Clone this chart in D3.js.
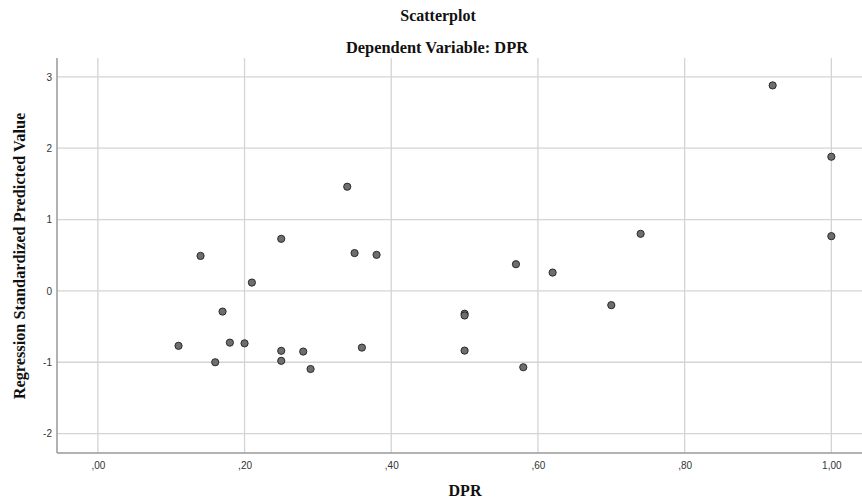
<!DOCTYPE html>
<html>
<head>
<meta charset="utf-8">
<script src="https://cdn.jsdelivr.net/npm/d3@7"></script>
<style>
  body { margin: 0; background: #fff; }
  svg { display: block; }
  .title { font-family: "Liberation Serif", "Times New Roman", serif; font-weight: bold; fill: #111; }
  .tick text { font-family: "Liberation Sans", Arial, sans-serif; font-size: 10px; fill: #333; }
</style>
</head>
<body>
<svg id="chart" width="862" height="501"></svg>
<script>
// DPR (x) vs regression standardized predicted value (y)
var dpr = [0.14, 0.34, 0.25, 0.35, 0.38, 0.21, 0.17, 0.11, 0.18, 0.20, 0.16, 0.25, 0.25, 0.28, 0.29, 0.36,
           0.92, 1.00, 1.00, 0.74, 0.57, 0.62, 0.70, 0.50, 0.50, 0.50, 0.58];
var predicted = [0.49, 1.46, 0.73, 0.53, 0.505, 0.117, -0.29, -0.77, -0.725, -0.735, -1.0, -0.84, -0.98, -0.85, -1.095, -0.795,
                 2.88, 1.88, 0.767, 0.80, 0.374, 0.257, -0.20, -0.32, -0.345, -0.837, -1.07];
var xTicks = [0, 0.2, 0.4, 0.6, 0.8, 1.0];
var xTickLabels = [",00", ",20", ",40", ",60", ",80", "1,00"];
var yTicks = [-2, -1, 0, 1, 2, 3];

var svg = d3.select("#chart");
var plotLeft = 57, plotRight = 862, plotTop = 58, plotBottom = 453;

var x = d3.scaleLinear().domain([-0.0557, 1.0418]).range([plotLeft, plotRight]);
var y = d3.scaleLinear().domain([-2.272, 3.264]).range([plotBottom, plotTop]);

// grid
svg.append("g").selectAll("line").data(xTicks).enter().append("line")
    .attr("x1", d => x(d)).attr("x2", d => x(d))
    .attr("y1", plotTop).attr("y2", plotBottom)
    .attr("stroke", "#d4d4d4").attr("stroke-width", 1.3);
svg.append("g").selectAll("line").data(yTicks).enter().append("line")
    .attr("x1", plotLeft).attr("x2", plotRight)
    .attr("y1", d => y(d)).attr("y2", d => y(d))
    .attr("stroke", "#d4d4d4").attr("stroke-width", 1.3);

// axes
var xAxis = d3.axisBottom(x).tickValues(xTicks).tickSize(0).tickPadding(9)
    .tickFormat((d, i) => xTickLabels[i]);
var gx = svg.append("g").attr("transform", "translate(0," + plotBottom + ")").call(xAxis);
gx.select(".domain").remove();

// plain hyphen for negatives, like the original
var yAxis = d3.axisLeft(y).tickValues(yTicks).tickSize(0).tickPadding(5)
    .tickFormat(d => String(d));
var gy = svg.append("g").attr("transform", "translate(" + plotLeft + ",0)").call(yAxis);
gy.select(".domain").remove();

svg.append("line").attr("x1", plotLeft).attr("x2", plotLeft).attr("y1", plotTop).attr("y2", plotBottom)
    .attr("stroke", "#999").attr("stroke-width", 1.5);
svg.append("line").attr("x1", plotLeft).attr("x2", plotRight).attr("y1", plotBottom).attr("y2", plotBottom)
    .attr("stroke", "#999").attr("stroke-width", 1.5);

// points
svg.append("g").selectAll("circle").data(dpr).enter().append("circle")
    .attr("cx", d => x(d))
    .attr("cy", (d, i) => y(predicted[i]))
    .attr("r", 3.6)
    .attr("fill", "#6e6e6e")
    .attr("stroke", "#2a2a2a")
    .attr("stroke-width", 1);

// titles
svg.append("text").attr("class", "title").attr("x", 438).attr("y", 21)
    .attr("text-anchor", "middle").style("font-size", "16px").text("Scatterplot");
svg.append("text").attr("class", "title").attr("x", 437).attr("y", 53)
    .attr("text-anchor", "middle").style("font-size", "16.4px").text("Dependent Variable: DPR");
svg.append("text").attr("class", "title").attr("x", 465).attr("y", 496)
    .attr("text-anchor", "middle").style("font-size", "16px").text("DPR");
svg.append("text").attr("class", "title")
    .attr("transform", "translate(25,256) rotate(-90)")
    .attr("text-anchor", "middle").style("font-size", "16.3px")
    .text("Regression Standardized Predicted Value");
</script>
</body>
</html>
